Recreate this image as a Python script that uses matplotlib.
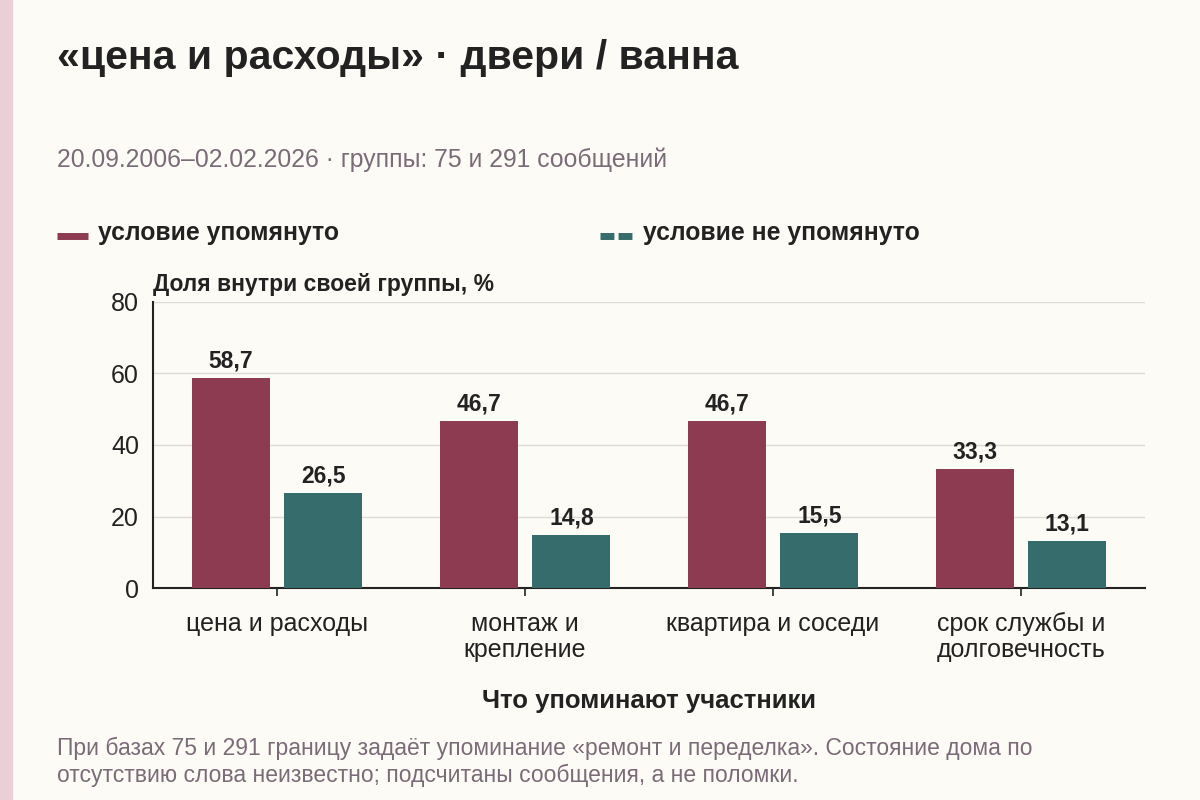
import matplotlib
matplotlib.use("Agg")
import matplotlib.pyplot as plt
from matplotlib.lines import Line2D
import numpy as np

categories = ["цена и расходы", "монтаж и\nкрепление", "квартира и соседи", "срок службы и\nдолговечность"]
mentioned = [58.7, 46.7, 46.7, 33.3]
not_mentioned = [26.5, 14.8, 15.5, 13.1]
series_names = ["условие упомянуто", "условие не упомянуто"]
yticks = [0, 20, 40, 60, 80]

title = "«цена и расходы» · двери / ванна"
subtitle = "20.09.2006–02.02.2026 · группы: 75 и 291 сообщений"
ylabel = "Доля внутри своей группы, %"
xlabel = "Что упоминают участники"
note = ("При базах 75 и 291 границу задаёт упоминание «ремонт и переделка». Состояние дома по\n"
        "отсутствию слова неизвестно; подсчитаны сообщения, а не поломки.")

plt.rcParams['font.family'] = ['Liberation Sans', 'DejaVu Sans']

BG = "#FDFBF5"
MAROON = "#8C3B51"
TEAL = "#366C6B"
DARK = "#222222"
GRAY = "#7A6B78"

fig = plt.figure(figsize=(12, 8), dpi=100, facecolor=BG)
fig.patches.append(plt.Rectangle((0, 0), 12/1200, 1, transform=fig.transFigure,
                                 color="#EBCFD6", zorder=0))

ax = fig.add_axes([153/1200, 1-588/800, (1145-153)/1200, (588-302)/800])
ax.set_facecolor(BG)
x = np.arange(len(categories))
w = 0.315
off = 0.187
b1 = ax.bar(x - off, mentioned, w, color=MAROON, zorder=3)
b2 = ax.bar(x + off, not_mentioned, w, color=TEAL, zorder=3)
for bars, vals in ((b1, mentioned), (b2, not_mentioned)):
    for b, v in zip(bars, vals):
        ax.text(b.get_x() + b.get_width()/2, v + 1.5, f"{v:.1f}".replace(".", ","),
                ha="center", va="bottom", fontsize=16.5, fontweight="bold", color=DARK)

ax.set_xlim(-0.5, len(categories) - 0.5)
ax.set_ylim(0, 80)
ax.set_yticks(yticks)
ax.set_yticklabels([str(t) for t in yticks])
ax.set_xticks(x)
ax.set_xticklabels(categories, linespacing=1.15)
ax.tick_params(axis="y", length=0, labelsize=18, colors=DARK, pad=10)
ax.tick_params(axis="x", length=6, width=1.2, color=DARK, labelsize=18, labelcolor=DARK, pad=11)
ax.grid(axis="y", color="#DDDBD5", linewidth=1, zorder=0)
for s in ("top", "right"):
    ax.spines[s].set_visible(False)
for s in ("left", "bottom"):
    ax.spines[s].set_color(DARK)
    ax.spines[s].set_linewidth(1.5)
ax.set_xlabel(xlabel, fontsize=18.5, fontweight="bold", color=DARK, labelpad=19)

fig.text(153/1200, 1-285/800, ylabel, fontsize=16.5, fontweight="bold", color=DARK, va="center")
fig.text(57/1200, 1-58/800, title, fontsize=29.5, fontweight="bold", color=DARK, va="center")
fig.text(57/1200, 1-160/800, subtitle, fontsize=17.8, color=GRAY, va="center")
fig.text(57/1200, 1-762/800, note, fontsize=16.5, color=GRAY, va="center", linespacing=1.2)

# legend
fig.add_artist(Line2D([57/1200, 88/1200], [1-236/800]*2, color=MAROON, lw=5,
                      solid_capstyle="butt", transform=fig.transFigure))
fig.text(98/1200, 1-233/800, series_names[0], fontsize=17.8, fontweight="bold", color=DARK, va="center")
fig.add_artist(Line2D([600/1200, 632/1200], [1-236/800]*2, color=TEAL, lw=5,
                      linestyle=(0, (2.0, 0.6)), dash_capstyle="butt", transform=fig.transFigure))
fig.text(643/1200, 1-233/800, series_names[1], fontsize=17.8, fontweight="bold", color=DARK, va="center")

fig.savefig("out.png", dpi=100, facecolor=BG)
